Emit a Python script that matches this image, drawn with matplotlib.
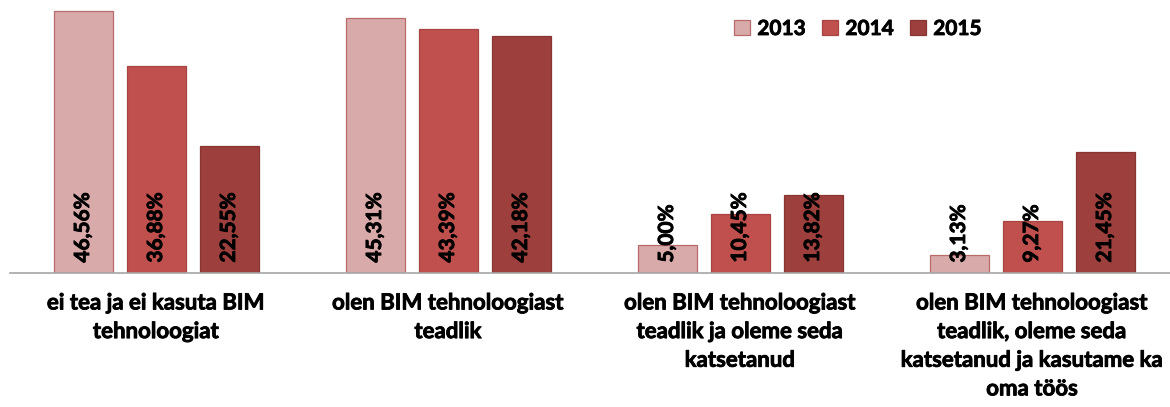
import matplotlib
matplotlib.use("Agg")
import matplotlib.pyplot as plt
import matplotlib.patheffects as pe
import numpy as np

categories = [
    "ei tea ja ei kasuta BIM\ntehnoloogiat",
    "olen BIM tehnoloogiast\nteadlik",
    "olen BIM tehnoloogiast\nteadlik ja oleme seda\nkatsetanud",
    "olen BIM tehnoloogiast\nteadlik, oleme seda\nkatsetanud ja kasutame ka\noma töös",
]
years = ["2013", "2014", "2015"]
v2013 = [46.56, 45.31, 5.00, 3.13]
v2014 = [36.88, 43.39, 10.45, 9.27]
v2015 = [22.55, 42.18, 13.82, 21.45]
series = [v2013, v2014, v2015]

colors = ["#D9AAAA", "#C0504D", "#9C3F3D"]
edges = ["#B86B6B", "#A84442", "#8A3533"]

plt.rcParams['font.family'] = ['Lato', 'DejaVu Sans']
bold_fx = [pe.withStroke(linewidth=0.6, foreground="black")]

W, H = 1170, 407
fig = plt.figure(figsize=(W / 100, H / 100), dpi=100)
ax_left_px, ax_right_px = 10, 1170
ax_bottom_px = 273
ax = fig.add_axes([ax_left_px / W, (H - ax_bottom_px) / H, (ax_right_px - ax_left_px) / W, ax_bottom_px / H])

x = np.arange(len(categories))
group_px = 292.0
xl = -0.5
xr = xl + (ax_right_px - ax_left_px) / group_px
ax.set_xlim(xl, xr)
ppu = 5.625  # px per percent
ax.set_ylim(0, ax_bottom_px / ppu)

bw = 59 / group_px
off = 73 / group_px
for i, (vals, c, e, yr) in enumerate(zip(series, colors, edges, years)):
    pos = x + (i - 1) * off
    ax.bar(pos, vals, width=bw, color=c, edgecolor=e, linewidth=0.9, label=yr, zorder=2)
    for xb, v in zip(pos, vals):
        ax.annotate(f"{v:.2f}%".replace(".", ","), xy=(xb, 0), xytext=(0, 7.5),
                    textcoords="offset points", rotation=90, ha="center", va="bottom",
                    fontsize=15, fontweight="bold", color="black", zorder=3,
                    path_effects=bold_fx)

for s in ["top", "right", "left"]:
    ax.spines[s].set_visible(False)
ax.spines["bottom"].set_color("#A6A6A6")
ax.spines["bottom"].set_linewidth(1.2)
ax.set_yticks([])
ax.set_xticks(x)
ax.set_xticklabels(categories, fontsize=16, fontweight="bold", linespacing=1.45)
for t in ax.get_xticklabels():
    t.set_path_effects(bold_fx)
ax.tick_params(axis="x", length=0, pad=14)

leg = ax.legend(loc="center", bbox_to_anchor=((858 - ax_left_px) / (ax_right_px - ax_left_px), 1 - 29 / ax_bottom_px),
                ncol=3, frameon=False, prop={"size": 15, "weight": "bold"},
                handlelength=0.75, handleheight=0.75, handletextpad=0.35, columnspacing=0.8)
for t in leg.get_texts():
    t.set_path_effects(bold_fx)

fig.savefig("out.png", dpi=100)
